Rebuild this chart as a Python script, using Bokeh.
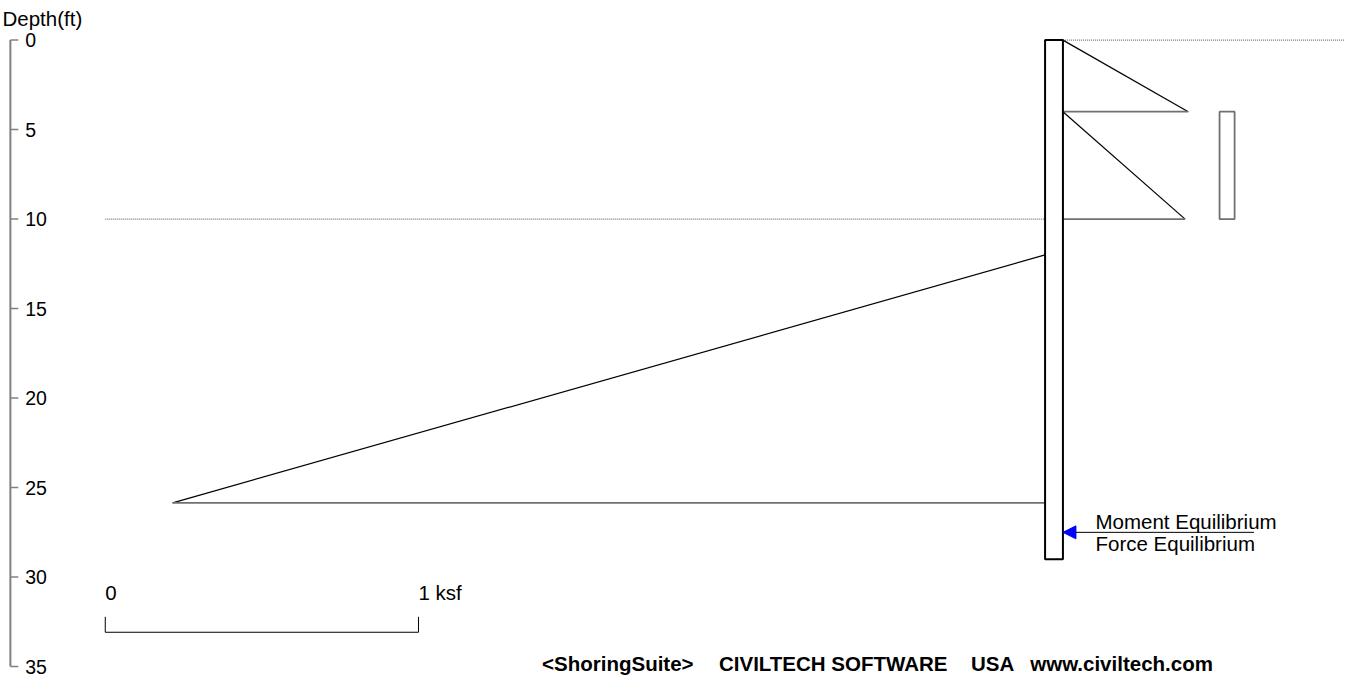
from bokeh.plotting import figure
from bokeh.models import Range1d, Arrow, NormalHead
from bokeh.core.properties import value
from bokeh.embed import file_html
from bokeh.resources import INLINE

# ---------------- data ----------------
depth_ticks = [0, 5, 10, 15, 20, 25, 30, 35]
depth_tick_labels = ["0", "5", "10", "15", "20", "25", "30", "35"]

wall_left = 3.0          # wall left face (ksf scale units from scale-bar origin)
wall_right = 3.057       # wall right face
wall_top = 0.0
wall_bottom = 29.0

ground_right_depth = 0.0     # retained side ground level
excavation_depth = 10.0      # excavation level

# active pressure (drawn to the right of the wall), two triangles
active1_depths = [0.0, 4.0, 4.0]
active1_p = [0.0, 0.40, 0.0]
active2_depths = [4.0, 10.0, 10.0]
active2_p = [0.0, 0.39, 0.0]

# surcharge block
surcharge_top, surcharge_bottom = 4.0, 10.0
surcharge_p0, surcharge_p1 = 0.50, 0.548

# passive pressure (drawn to the left of the wall)
passive_depths = [12.0, 25.85, 25.85]
passive_p = [0.0, 2.785, 0.0]

# equilibrium point
equil_depth = 27.5
equil_arrow_len = 0.61

scale_labels = ["0", "1 ksf"]
scale_values = [0.0, 1.0]

# ---------------- layout ----------------
W, H = 1345, 682
KX = W / 1361.0
KY = 0.966
PXK = 317.0 * KX          # pixels per ksf
S = 18.53 * KY            # pixels per ft
X0 = -106.0 * KX / PXK
X1 = X0 + W / PXK
D_TOP = -41.0 * KY / S
D_BOT = D_TOP + H / S

def px(rx):
    return X0 + rx * KX / PXK

def py(ry):
    return D_TOP + ry * KY / S

FONT = value("Liberation Sans")
FS = "20.5px"

p = figure(width=W, height=H, output_backend="svg", toolbar_location=None,
           x_range=Range1d(X0, X1), y_range=Range1d(D_BOT, D_TOP),
           min_border=0, min_border_left=0, min_border_right=0,
           min_border_top=0, min_border_bottom=0)
p.axis.visible = False
p.grid.visible = False
p.outline_line_color = None
p.background_fill_color = "white"
p.border_fill_color = "white"

# ---- depth axis (drawn manually: ticks inward, labels on the right) ----
ax_x = px(10)
tick_x = px(18)
p.segment(x0=[ax_x], y0=[depth_ticks[0]], x1=[ax_x], y1=[depth_ticks[-1]],
          line_color="#808080", line_width=2)
p.segment(x0=[ax_x] * len(depth_ticks), y0=depth_ticks,
          x1=[tick_x] * len(depth_ticks), y1=depth_ticks,
          line_color="#808080", line_width=1.5)
p.text(x=[px(25)] * len(depth_ticks), y=depth_ticks, text=depth_tick_labels,
       text_font=FONT, text_font_size="19.5px", text_baseline="middle",
       text_align="left", text_color="black")
p.text(x=[px(2)], y=[py(19)], text=["Depth(ft)"], text_font=FONT,
       text_font_size=FS, text_baseline="middle", text_align="left",
       text_color="black")

# ---- ground lines (dotted) ----
p.line(x=[wall_right, X1], y=[ground_right_depth, ground_right_depth],
       line_color="#505050", line_width=1, line_dash="1 1")
p.line(x=[0.0, wall_left], y=[excavation_depth, excavation_depth],
       line_color="#505050", line_width=1, line_dash="1 1")

# ---- active pressure triangles ----
for dd, pp in [(active1_depths, active1_p), (active2_depths, active2_p)]:
    xs = [wall_right + v for v in pp]
    p.line(x=xs[:2], y=dd[:2], line_color="black", line_width=1.2)
    p.line(x=xs[1:], y=dd[1:], line_color="#707070", line_width=1.8)

# ---- surcharge block ----
p.quad(left=[wall_right + surcharge_p0], right=[wall_right + surcharge_p1],
       top=[surcharge_top], bottom=[surcharge_bottom],
       fill_color=None, line_color="#707070", line_width=1.8)

# ---- passive pressure triangle ----
pxs = [wall_left - v for v in passive_p]
p.line(x=pxs[:2], y=passive_depths[:2], line_color="black", line_width=1.2)
p.line(x=pxs[1:], y=passive_depths[1:], line_color="#707070", line_width=1.8)

# ---- wall ----
p.quad(left=[wall_left], right=[wall_right], top=[wall_top], bottom=[wall_bottom],
       fill_color="white", fill_alpha=0, line_color="black", line_width=2)

# ---- equilibrium arrow ----
p.add_layout(Arrow(x_start=wall_right + equil_arrow_len, y_start=equil_depth,
                   x_end=wall_right, y_end=equil_depth,
                   line_color="black", line_width=1,
                   end=NormalHead(size=13, fill_color="blue", line_color="blue",
                                  line_width=1)))
p.text(x=[px(1108)] * 2, y=[py(539), py(562)],
       text=["Moment Equilibrium", "Force Equilibrium"], text_font=FONT,
       text_font_size=FS, text_baseline="middle", text_align="left",
       text_color="black")

# ---- pressure scale bar ----
bar_y = py(654)
bar_top = py(638)
p.line(x=[scale_values[0], scale_values[0], scale_values[1], scale_values[1]],
       y=[bar_top, bar_y, bar_y, bar_top], line_color="black", line_width=1)
p.text(x=scale_values, y=[py(613)] * 2, text=scale_labels, text_font=FONT,
       text_font_size=FS, text_baseline="middle", text_align="left",
       text_color="black")

# ---- footer ----
footer_parts = ["<ShoringSuite>", "CIVILTECH SOFTWARE", "USA", "www.civiltech.com"]
footer_x = [px(548), px(727), px(982), px(1042)]
p.text(x=footer_x, y=[py(686)] * 4, text=footer_parts, text_font=FONT,
       text_font_size=FS, text_font_style="bold", text_baseline="middle",
       text_align="left", text_color="black")

open("out.html", "w").write(file_html(p, INLINE))
